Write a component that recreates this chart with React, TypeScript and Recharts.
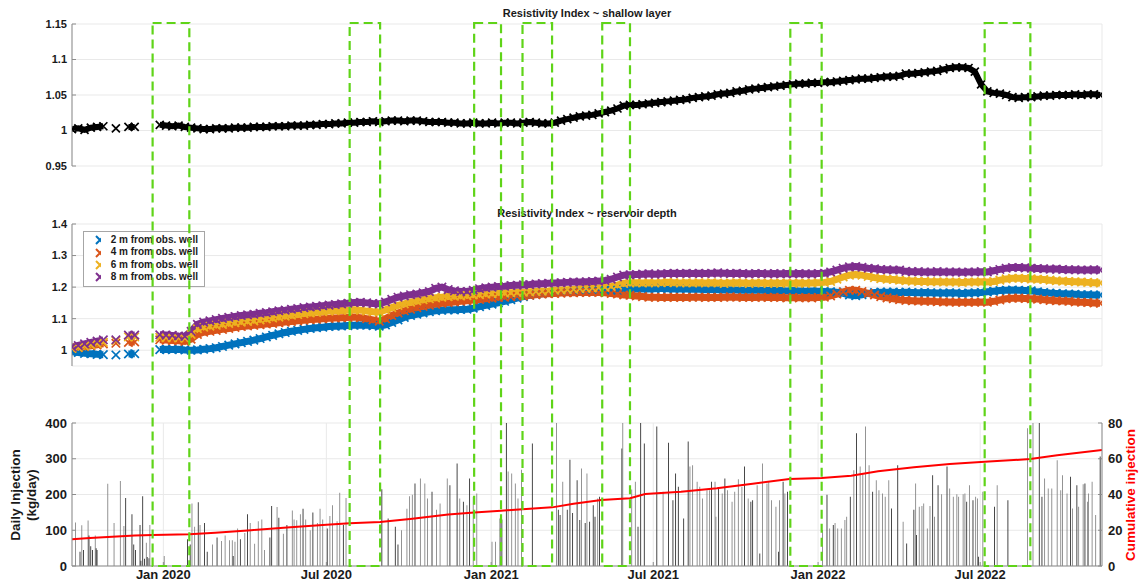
import React from 'react';
import {
  ComposedChart, Scatter, Line, Bar, Cell, XAxis, YAxis, CartesianGrid, ReferenceArea, Legend,
} from 'recharts';

// ---------- DATA ----------
// day offset 0 = 21 Sep 2019, samples every 7 days
const SAMPLE_STEP = 7;
const X_MAX = 1150;

const shallowRI = [
  1.002, 1.003, 1.001, 1.004, 1.005, 1.006, null, 1.003, null, 1.005,
  1.005, null, null, null, 1.008, 1.007, 1.006, 1.007, 1.005, 1.004,
  1.003, 1.002, 1.002, 1.003, 1.003, 1.003, 1.004, 1.004, 1.004, 1.005,
  1.005, 1.005, 1.006, 1.006, 1.006, 1.007, 1.007, 1.007, 1.008, 1.008,
  1.009, 1.009, 1.010, 1.010, 1.011, 1.011, 1.012, 1.012, 1.013, 1.012,
  1.013, 1.014, 1.014, 1.013, 1.014, 1.014, 1.013, 1.012, 1.012, 1.012,
  1.011, 1.011, 1.010, 1.010, 1.011, 1.010, 1.010, 1.011, 1.010, 1.011,
  1.011, 1.010, 1.011, 1.012, 1.011, 1.010, 1.010, 1.011, 1.014, 1.016,
  1.018, 1.020, 1.021, 1.022, 1.024, 1.026, 1.028, 1.031, 1.035, 1.036,
  1.036, 1.037, 1.038, 1.039, 1.040, 1.041, 1.042, 1.043, 1.044, 1.046,
  1.047, 1.048, 1.049, 1.051, 1.052, 1.053, 1.055, 1.056, 1.058, 1.059,
  1.060, 1.061, 1.062, 1.063, 1.064, 1.065, 1.066, 1.066, 1.067, 1.067,
  1.068, 1.068, 1.069, 1.070, 1.071, 1.072, 1.073, 1.073, 1.074, 1.075,
  1.076, 1.076, 1.077, 1.080, 1.080, 1.081, 1.082, 1.083, 1.084, 1.086,
  1.088, 1.089, 1.089, 1.088, 1.083, 1.065, 1.055, 1.053, 1.052, 1.050,
  1.047, 1.046, 1.047, 1.047, 1.048, 1.049, 1.049, 1.050, 1.050, 1.050,
  1.051, 1.050, 1.051, 1.051, 1.050,
];

const ri2m = [
  0.995, 0.993, 0.990, 0.989, 0.987, 0.986, null, 0.985, null, 0.988,
  0.989, null, null, null, 1.002, 1.003, 1.002, 1.003, 1.001, 1.000,
  1.001, 1.003, 1.005, 1.008, 1.012, 1.016, 1.020, 1.024, 1.028, 1.032,
  1.037, 1.042, 1.047, 1.052, 1.056, 1.060, 1.063, 1.066, 1.069, 1.071,
  1.073, 1.075, 1.076, 1.077, 1.078, 1.079, 1.080, 1.079, 1.078, 1.076,
  1.080, 1.088, 1.096, 1.104, 1.110, 1.114, 1.118, 1.122, 1.125, 1.127,
  1.128, 1.128, 1.129, 1.130, 1.133, 1.138, 1.142, 1.146, 1.150, 1.155,
  1.160, 1.165, 1.170, 1.174, 1.177, 1.179, 1.181, 1.183, 1.184, 1.185,
  1.186, 1.187, 1.188, 1.188, 1.189, 1.190, 1.190, 1.190, 1.193, 1.195,
  1.194, 1.195, 1.194, 1.195, 1.196, 1.195, 1.194, 1.195, 1.194, 1.193,
  1.193, 1.192, 1.193, 1.192, 1.191, 1.192, 1.191, 1.190, 1.190, 1.191,
  1.190, 1.189, 1.190, 1.189, 1.188, 1.189, 1.188, 1.187, 1.188, 1.187,
  1.186, 1.185, 1.184, 1.180, 1.175, 1.173, 1.176, 1.180, 1.183, 1.184,
  1.184, 1.184, 1.183, 1.184, 1.183, 1.182, 1.183, 1.182, 1.181, 1.181,
  1.182, 1.181, 1.180, 1.181, 1.182, 1.183, 1.185, 1.187, 1.189, 1.190,
  1.191, 1.190, 1.189, 1.188, 1.185, 1.183, 1.181, 1.180, 1.179, 1.178,
  1.177, 1.176, 1.176, 1.175, 1.175,
];

const ri4m = [
  1.006, 1.008, 1.011, 1.014, 1.017, 1.020, null, 1.022, null, 1.025,
  1.026, null, null, null, 1.033, 1.032, 1.031, 1.030, 1.028, 1.035,
  1.050, 1.057, 1.060, 1.063, 1.066, 1.069, 1.072, 1.075, 1.077, 1.079,
  1.081, 1.083, 1.085, 1.087, 1.089, 1.091, 1.093, 1.095, 1.097, 1.098,
  1.100, 1.101, 1.102, 1.103, 1.104, 1.105, 1.103, 1.100, 1.096, 1.092,
  1.100, 1.110, 1.118, 1.125, 1.130, 1.135, 1.139, 1.143, 1.146, 1.149,
  1.151, 1.153, 1.155, 1.157, 1.159, 1.161, 1.163, 1.165, 1.167, 1.168,
  1.170, 1.171, 1.172, 1.174, 1.176, 1.178, 1.179, 1.180, 1.181, 1.182,
  1.182, 1.183, 1.183, 1.184, 1.183, 1.182, 1.180, 1.178, 1.175, 1.174,
  1.172, 1.170, 1.168, 1.168, 1.167, 1.168, 1.167, 1.168, 1.167, 1.168,
  1.168, 1.167, 1.168, 1.167, 1.168, 1.169, 1.168, 1.167, 1.168, 1.167,
  1.168, 1.167, 1.168, 1.167, 1.166, 1.167, 1.166, 1.167, 1.166, 1.167,
  1.168, 1.172, 1.178, 1.185, 1.190, 1.190, 1.186, 1.180, 1.175, 1.170,
  1.166, 1.163, 1.160, 1.158, 1.157, 1.156, 1.155, 1.155, 1.154, 1.153,
  1.153, 1.152, 1.152, 1.152, 1.152, 1.153, 1.152, 1.155, 1.159, 1.163,
  1.165, 1.165, 1.164, 1.163, 1.162, 1.160, 1.158, 1.157, 1.156, 1.155,
  1.153, 1.152, 1.151, 1.150, 1.149,
];

const ri6m = [
  1.006, 1.009, 1.013, 1.017, 1.021, 1.025, null, 1.030, null, 1.042,
  1.042, null, null, null, 1.041, 1.040, 1.040, 1.039, 1.038, 1.050,
  1.068, 1.073, 1.076, 1.079, 1.082, 1.085, 1.087, 1.089, 1.091, 1.093,
  1.096, 1.099, 1.102, 1.105, 1.108, 1.111, 1.113, 1.116, 1.118, 1.120,
  1.122, 1.124, 1.125, 1.126, 1.127, 1.128, 1.127, 1.124, 1.122, 1.121,
  1.128, 1.135, 1.142, 1.147, 1.152, 1.156, 1.160, 1.163, 1.166, 1.168,
  1.170, 1.171, 1.172, 1.173, 1.175, 1.176, 1.178, 1.179, 1.180, 1.181,
  1.182, 1.183, 1.184, 1.185, 1.186, 1.187, 1.188, 1.190, 1.191, 1.192,
  1.193, 1.195, 1.196, 1.197, 1.198, 1.200, 1.202, 1.206, 1.212, 1.213,
  1.214, 1.213, 1.214, 1.213, 1.214, 1.215, 1.214, 1.213, 1.214, 1.213,
  1.214, 1.213, 1.214, 1.213, 1.212, 1.213, 1.214, 1.213, 1.212, 1.213,
  1.213, 1.212, 1.213, 1.212, 1.213, 1.212, 1.213, 1.212, 1.213, 1.214,
  1.215, 1.218, 1.225, 1.232, 1.238, 1.240, 1.238, 1.234, 1.230, 1.227,
  1.225, 1.224, 1.222, 1.220, 1.219, 1.218, 1.218, 1.217, 1.217, 1.216,
  1.216, 1.216, 1.215, 1.216, 1.216, 1.217, 1.216, 1.218, 1.222, 1.226,
  1.228, 1.228, 1.227, 1.226, 1.225, 1.224, 1.222, 1.220, 1.219, 1.218,
  1.217, 1.216, 1.215, 1.214, 1.213,
];

const ri8m = [
  1.010, 1.015, 1.020, 1.025, 1.029, 1.033, null, 1.033, null, 1.048,
  1.048, null, null, null, 1.049, 1.048, 1.047, 1.045, 1.044, 1.060,
  1.082, 1.089, 1.093, 1.097, 1.101, 1.104, 1.107, 1.110, 1.112, 1.114,
  1.117, 1.119, 1.122, 1.125, 1.127, 1.130, 1.132, 1.135, 1.137, 1.139,
  1.141, 1.143, 1.145, 1.147, 1.149, 1.151, 1.152, 1.150, 1.148, 1.147,
  1.153, 1.161, 1.168, 1.172, 1.176, 1.178, 1.182, 1.186, 1.196, 1.200,
  1.192, 1.188, 1.186, 1.186, 1.190, 1.195, 1.198, 1.200, 1.202, 1.203,
  1.205, 1.206, 1.207, 1.208, 1.210, 1.211, 1.212, 1.213, 1.214, 1.215,
  1.216, 1.216, 1.217, 1.218, 1.219, 1.221, 1.225, 1.232, 1.238, 1.239,
  1.240, 1.241, 1.242, 1.241, 1.242, 1.243, 1.244, 1.243, 1.244, 1.243,
  1.244, 1.243, 1.244, 1.245, 1.244, 1.243, 1.244, 1.243, 1.242, 1.243,
  1.243, 1.242, 1.243, 1.242, 1.243, 1.242, 1.243, 1.242, 1.242, 1.243,
  1.244, 1.248, 1.254, 1.260, 1.264, 1.265, 1.263, 1.260, 1.258, 1.256,
  1.255, 1.254, 1.254, 1.250, 1.249, 1.249, 1.248, 1.248, 1.249, 1.248,
  1.248, 1.248, 1.247, 1.248, 1.248, 1.249, 1.248, 1.252, 1.256, 1.260,
  1.262, 1.262, 1.261, 1.260, 1.259, 1.258, 1.257, 1.257, 1.256, 1.255,
  1.255, 1.254, 1.254, 1.255, 1.254,
];

const seriesNames = ['2 m from obs. well', '4 m from obs. well', '6 m from obs. well', '8 m from obs. well'];
const seriesColors = ['#0072BD', '#D95319', '#EDB120', '#7E2F8E'];

// daily injection bars (day offset, kg/day, shade d=dark l=light)
const injDays = [
  4, 9, 11, 13, 18, 19, 21, 23, 26, 27, 28, 40, 47, 54, 58, 60, 67, 69, 71, 76,
  77, 79, 81, 83, 84, 86, 87, 103, 129, 132, 134, 137, 141, 143, 148, 151, 157, 162, 167, 171,
  176, 179, 180, 182, 185, 188, 193, 196, 199, 204, 208, 212, 215, 221, 223, 229, 231, 236, 240, 246,
  248, 251, 255, 258, 261, 266, 269, 274, 277, 280, 285, 288, 291, 296, 299, 303, 306, 346, 353, 361,
  364, 368, 374, 377, 380, 383, 389, 394, 397, 402, 407, 411, 419, 422, 430, 433, 437, 441, 444, 448,
  452, 469, 473, 478, 480, 485, 487, 491, 495, 498, 502, 514, 541, 543, 545, 548, 553, 556, 559, 564,
  567, 569, 573, 575, 578, 582, 584, 587, 589, 614, 615, 625, 629, 632, 635, 639, 653, 660, 666, 671,
  674, 677, 683, 688, 690, 693, 698, 701, 704, 709, 712, 714, 718, 719, 722, 726, 729, 732, 737, 740,
  744, 748, 751, 755, 758, 760, 765, 768, 771, 776, 778, 781, 786, 789, 790, 794, 796, 799, 838, 843,
  846, 850, 852, 855, 859, 863, 865, 869, 873, 876, 880, 883, 886, 890, 894, 898, 901, 905, 908, 912,
  915, 922, 928, 932, 940, 942, 943, 946, 949, 951, 955, 958, 961, 963, 967, 971, 977, 980, 984, 988,
  990, 995, 997, 999, 1002, 1006, 1009, 1011, 1012, 1017, 1030, 1033, 1045, 1067, 1073, 1080, 1083, 1086, 1090, 1094,
  1100, 1104, 1106, 1111, 1115, 1117, 1122, 1124, 1129, 1131, 1134, 1135, 1139, 1143, 1148,
];
const injValues = [
  122, 40, 114, 45, 127, 85, 55, 45, 85, 50, 45, 230, 120, 238, 112, 190, 145, 60, 45, 115,
  15, 195, 20, 65, 25, 22, 115, 28, 75, 60, 175, 110, 178, 115, 120, 40, 60, 80, 70, 85,
  72, 72, 28, 68, 105, 75, 92, 145, 120, 62, 125, 130, 45, 80, 168, 165, 135, 90, 115, 155,
  130, 128, 145, 160, 130, 100, 150, 120, 160, 130, 105, 140, 170, 125, 205, 115, 190, 215, 133, 110,
  60, 100, 160, 195, 199, 231, 245, 231, 189, 208, 157, 175, 245, 226, 287, 189, 180, 170, 245, 194,
  203, 68, 68, 133, 130, 400, 264, 259, 231, 189, 269, 343, 400, 157, 143, 236, 157, 297, 148, 240,
  129, 273, 120, 259, 124, 170, 138, 189, 194, 329, 400, 214, 236, 110, 400, 343, 390, 208, 345, 184,
  259, 222, 133, 348, 278, 282, 236, 222, 189, 212, 212, 236, 236, 138, 217, 203, 245, 212, 180, 208,
  243, 222, 278, 189, 180, 184, 226, 35, 287, 231, 236, 184, 166, 40, 184, 236, 203, 208, 101, 199,
  105, 115, 120, 105, 105, 129, 138, 194, 268, 371, 278, 259, 390, 282, 208, 240, 212, 203, 194, 240,
  161, 282, 124, 63, 157, 231, 87, 166, 168, 175, 105, 168, 254, 138, 226, 201, 278, 217, 194, 201,
  194, 201, 203, 180, 226, 184, 194, 189, 26, 208, 166, 226, 184, 385, 400, 400, 194, 245, 217, 217,
  296, 212, 254, 203, 250, 161, 226, 166, 229, 231, 180, 203, 236, 143, 306,
];
const injShade = [
  'l', 'd', 'l', 'd', 'l', 'd', 'd', 'd', 'l', 'd', 'd', 'l', 'l', 'l', 'l', 'd', 'd', 'd', 'd', 'd',
  'd', 'd', 'd', 'l', 'd', 'd', 'l', 'l', 'd', 'd', 'l', 'l', 'd', 'l', 'd', 'd', 'l', 'd', 'l', 'l',
  'l', 'l', 'd', 'l', 'l', 'd', 'l', 'd', 'l', 'l', 'l', 'l', 'l', 'd', 'd', 'l', 'd', 'l', 'd', 'l',
  'l', 'l', 'l', 'd', 'l', 'l', 'd', 'l', 'l', 'l', 'd', 'l', 'l', 'l', 'l', 'd', 'l', 'd', 'd', 'd',
  'd', 'l', 'l', 'l', 'l', 'd', 'l', 'l', 'l', 'd', 'l', 'l', 'l', 'd', 'd', 'l', 'd', 'l', 'd', 'l',
  'l', 'l', 'l', 'd', 'd', 'd', 'l', 'l', 'l', 'l', 'l', 'd', 'l', 'd', 'd', 'l', 'd', 'd', 'd', 'd',
  'd', 'l', 'd', 'l', 'd', 'd', 'd', 'l', 'd', 'd', 'l', 'l', 'l', 'd', 'd', 'd', 'd', 'l', 'd', 'd',
  'd', 'd', 'd', 'd', 'l', 'l', 'l', 'l', 'l', 'l', 'l', 'd', 'l', 'l', 'd', 'l', 'd', 'l', 'l', 'l',
  'l', 'l', 'd', 'l', 'd', 'd', 'l', 'd', 'l', 'l', 'l', 'l', 'l', 'd', 'l', 'd', 'l', 'd', 'l', 'd',
  'l', 'd', 'l', 'l', 'l', 'l', 'l', 'd', 'l', 'd', 'l', 'l', 'l', 'l', 'd', 'l', 'l', 'l', 'l', 'l',
  'd', 'd', 'l', 'd', 'd', 'l', 'd', 'l', 'l', 'l', 'l', 'l', 'd', 'l', 'd', 'l', 'd', 'l', 'l', 'l',
  'l', 'l', 'l', 'd', 'l', 'd', 'l', 'l', 'd', 'l', 'd', 'l', 'd', 'l', 'l', 'd', 'd', 'l', 'l', 'l',
  'l', 'l', 'l', 'l', 'd', 'l', 'd', 'l', 'l', 'd', 'l', 'l', 'l', 'l', 'd',
];

// cumulative injection (right axis)
const cumDays = [0, 20, 45, 70, 90, 131, 160, 200, 240, 280, 310, 344, 380, 420, 449, 479, 503, 536, 560, 591, 623, 640, 680, 720, 760, 801, 837, 870, 900, 940, 980, 1019, 1070, 1100, 1150];
const cumValues = [15.0, 15.6, 16.3, 17.0, 17.4, 17.7, 18.6, 20.0, 21.6, 23.0, 23.9, 24.6, 26.5, 28.8, 29.9, 30.9, 31.8, 32.8, 34.8, 36.9, 37.9, 40.3, 41.5, 43.5, 46.0, 48.7, 49.2, 50.5, 53.0, 55.3, 57.0, 58.3, 59.8, 62.0, 64.9];

// shut-in periods (green dashed boxes)
const shutInStart = [90, 310, 449, 503, 592, 802, 1019];
const shutInEnd = [131, 344, 479, 536, 623, 837, 1070];

// axis ticks
const xTickDays = [102, 284, 468, 649, 833, 1014];
const xTickLabels = ['Jan 2020', 'Jul 2020', 'Jan 2021', 'Jul 2021', 'Jan 2022', 'Jul 2022'];
const minorGridDays = [40, 80, 120, 160, 200, 240, 280, 320, 360, 400, 440, 480, 520, 560, 600, 640, 680, 720, 760, 800, 840, 880, 920, 960, 1000, 1040, 1080, 1120];
const shallowTicks = [0.95, 1, 1.05, 1.1, 1.15];
const reservoirTicks = [1, 1.1, 1.2, 1.3, 1.4];
const dailyTicks = [0, 100, 200, 300, 400];
const cumTicks = [0, 20, 40, 60, 80];

// ---------- STYLE ----------
const FONT = '"Liberation Sans", Arial, Helvetica, sans-serif';
const AXIS = '#8c8c8c';
const GRID = '#e9e9e9';
const GREEN = '#5fd418';

const lineRows = (vals: (number | null)[]) => vals.map((v, i) => ({ day: i * SAMPLE_STEP, v }));
const pointRows = (vals: (number | null)[]) => lineRows(vals).filter((p) => p.v !== null);

const barRows = injDays.map((d, i) => ({ day: d, inj: injValues[i], shade: injShade[i] }));
const cumRows = cumDays.map((d, i) => ({ day: d, cum: cumValues[i] }));
const boxRows = [{ day: 0, y: 0 }, { day: X_MAX, y: 1 }];

function makeXShape(color: string, r: number, sw: number) {
  return (props: any) => {
    const { cx, cy } = props;
    if (typeof cx !== 'number' || typeof cy !== 'number' || isNaN(cx) || isNaN(cy)) return <g />;
    return (
      <path
        d={`M${cx - r},${cy - r}L${cx + r},${cy + r}M${cx - r},${cy + r}L${cx + r},${cy - r}`}
        stroke={color}
        strokeWidth={sw}
        fill="none"
      />
    );
  };
}

const tickStyle = (size: number) => ({ fontSize: size, fontWeight: 700, fill: '#1a1a1a', fontFamily: FONT });

const ReservoirLegend = () => (
  <div
    style={{
      background: '#fff', border: '1px solid #a6a6a6', padding: '2px 6px 2px 8px',
      fontFamily: FONT, fontSize: 10, fontWeight: 700, color: '#1a1a1a', lineHeight: '12.4px',
      boxSizing: 'border-box', width: 122,
    }}
  >
    {seriesNames.map((n, i) => (
      <div key={n} style={{ display: 'flex', alignItems: 'center', whiteSpace: 'nowrap' }}>
        <svg width={16} height={12} style={{ marginRight: 10 }}>
          <path d="M4,2L12,10M4,10L12,2" stroke={seriesColors[i]} strokeWidth={2} />
        </svg>
        {n}
      </div>
    ))}
  </div>
);

function topAxes(domain: [number, number], ticks: number[]) {
  return [
    <CartesianGrid key="g" stroke={GRID} vertical horizontal />,
    <XAxis key="xb" dataKey="day" type="number" domain={[0, X_MAX]} allowDataOverflow ticks={minorGridDays}
      tick={false} tickSize={-4} height={0} axisLine={{ stroke: AXIS }} tickLine={{ stroke: AXIS }} />,
    <XAxis key="xt" xAxisId="top" orientation="top" dataKey="day" type="number" domain={[0, X_MAX]} allowDataOverflow
      ticks={minorGridDays} tick={false} tickSize={-4} height={0} axisLine={{ stroke: AXIS }} tickLine={{ stroke: AXIS }} />,
    <YAxis key="yl" type="number" domain={domain} allowDataOverflow ticks={ticks} width={72} tickSize={-4} tickMargin={9}
      tick={tickStyle(11)} axisLine={{ stroke: AXIS }} tickLine={{ stroke: AXIS }} />,
    <YAxis key="yr" yAxisId="r" orientation="right" type="number" domain={domain} allowDataOverflow ticks={ticks} width={0}
      tick={false} tickSize={-4} axisLine={{ stroke: AXIS }} tickLine={{ stroke: AXIS }} />,
  ];
}

const titleStyle = (top: number): React.CSSProperties => ({
  position: 'absolute', left: 72, width: 1030, top, textAlign: 'center',
  fontFamily: FONT, fontSize: 11, fontWeight: 700, color: '#1a1a1a',
});

export default function App() {
  const reservoir = [ri2m, ri4m, ri6m, ri8m];
  return (
    <div style={{ position: 'relative', width: 1140, height: 586, background: '#fff', fontFamily: FONT, overflow: 'hidden' }}>
      <style>{'body{margin:0;}'}</style>

      <div style={titleStyle(7)}>Resistivity Index ~ shallow layer</div>
      <div style={{ position: 'absolute', left: 0, top: 0 }}>
        <ComposedChart width={1140} height={180} margin={{ top: 24, right: 38, bottom: 14, left: 0 }}>
          {topAxes([0.95, 1.15], shallowTicks)}
          <Line data={lineRows(shallowRI)} dataKey="v" stroke="#000" strokeWidth={6} dot={false}
            isAnimationActive={false} connectNulls={false} legendType="none" />
          <Scatter data={pointRows(shallowRI)} dataKey="v" fill="#000" shape={makeXShape('#000', 4, 1.7)}
            isAnimationActive={false} />
        </ComposedChart>
      </div>

      <div style={titleStyle(207)}>Resistivity Index ~ reservoir depth</div>
      <div style={{ position: 'absolute', left: 0, top: 190 }}>
        <ComposedChart width={1140} height={190} margin={{ top: 34, right: 38, bottom: 14, left: 0 }}>
          {topAxes([0.95, 1.4], reservoirTicks)}
          {reservoir.map((vals, i) => [
            <Line key={`l${i}`} data={lineRows(vals)} dataKey="v" stroke={seriesColors[i]} strokeWidth={7} dot={false}
              isAnimationActive={false} connectNulls={false} legendType="none" />,
            <Scatter key={`s${i}`} name={seriesNames[i]} data={pointRows(vals)} dataKey="v" fill={seriesColors[i]}
              shape={makeXShape(seriesColors[i], 4.2, 1.7)} isAnimationActive={false} />,
          ])}
          <Legend layout="vertical" align="center" verticalAlign="middle"
            wrapperStyle={{ left: 83, top: 41, width: 122 }} content={() => <ReservoirLegend />} />
        </ComposedChart>
      </div>

      <div style={{ position: 'absolute', left: 0, top: 390 }}>
        <ComposedChart width={1140} height={196} data={barRows} margin={{ top: 33, right: 0, bottom: 0, left: 0 }}>
          <CartesianGrid stroke={GRID} yAxisId="left" vertical horizontal />
          <XAxis dataKey="day" type="number" domain={[0, X_MAX]} allowDataOverflow ticks={xTickDays}
            tickFormatter={(d: number) => xTickLabels[xTickDays.indexOf(d)] ?? ''}
            height={20} tickSize={-4} tickMargin={8} tick={tickStyle(13)}
            axisLine={{ stroke: AXIS }} tickLine={{ stroke: AXIS }} />
          <XAxis xAxisId="top" orientation="top" dataKey="day" type="number" domain={[0, X_MAX]} allowDataOverflow
            ticks={xTickDays} tick={false} tickSize={-4} height={0} axisLine={{ stroke: AXIS }} tickLine={{ stroke: AXIS }} />
          <YAxis yAxisId="left" type="number" domain={[0, 400]} allowDataOverflow ticks={dailyTicks} width={72}
            tickSize={-4} tickMargin={9} tick={tickStyle(13)} axisLine={{ stroke: AXIS }} tickLine={{ stroke: AXIS }} />
          <YAxis yAxisId="right" orientation="right" type="number" domain={[0, 80]} allowDataOverflow ticks={cumTicks}
            width={38} tickSize={-4} tickMargin={10} tick={{ ...tickStyle(13), textAnchor: 'start' }}
            axisLine={{ stroke: AXIS }} tickLine={{ stroke: AXIS }} />
          <Bar yAxisId="left" dataKey="inj" barSize={2} isAnimationActive={false}>
            {barRows.map((r, i) => (
              <Cell key={i} fill={r.shade === 'd' ? '#1c1c1c' : '#7a7a7a'} />
            ))}
          </Bar>
          <Line yAxisId="right" data={cumRows} dataKey="cum" stroke="#ff0000" strokeWidth={2} dot={false}
            isAnimationActive={false} />
        </ComposedChart>
      </div>

      {/* shut-in period boxes spanning all panels */}
      <div style={{ position: 'absolute', left: 0, top: 0, pointerEvents: 'none' }}>
        <ComposedChart width={1140} height={586} data={boxRows}
          margin={{ top: 23, right: 38, bottom: 20, left: 72 }}>
          <XAxis dataKey="day" type="number" domain={[0, X_MAX]} hide />
          <YAxis type="number" domain={[0, 1]} hide />
          <Line dataKey="y" stroke="none" strokeWidth={0} dot={false} activeDot={false}
            isAnimationActive={false} legendType="none" />
          {shutInStart.map((s, i) => (
            <ReferenceArea key={i} x1={s} x2={shutInEnd[i]} y1={0} y2={1} fill="none" fillOpacity={0}
              stroke={GREEN} strokeWidth={2.2} strokeDasharray="9 5" ifOverflow="visible" />
          ))}
        </ComposedChart>
      </div>

      {/* axis labels */}
      <div style={{
        position: 'absolute', left: 24, top: 495, transform: 'translate(-50%, -50%) rotate(-90deg)',
        whiteSpace: 'nowrap', textAlign: 'center', fontFamily: FONT, fontSize: 13.5, fontWeight: 700,
        color: '#1a1a1a', lineHeight: '16px',
      }}>
        Daily Injection<br />(kg/day)
      </div>
      <div style={{
        position: 'absolute', left: 1130, top: 495, transform: 'translate(-50%, -50%) rotate(-90deg)',
        whiteSpace: 'nowrap', fontFamily: FONT, fontSize: 13.5, fontWeight: 700, color: '#ff0000', lineHeight: '15px',
      }}>
        Cumulative injection
      </div>
    </div>
  );
}
